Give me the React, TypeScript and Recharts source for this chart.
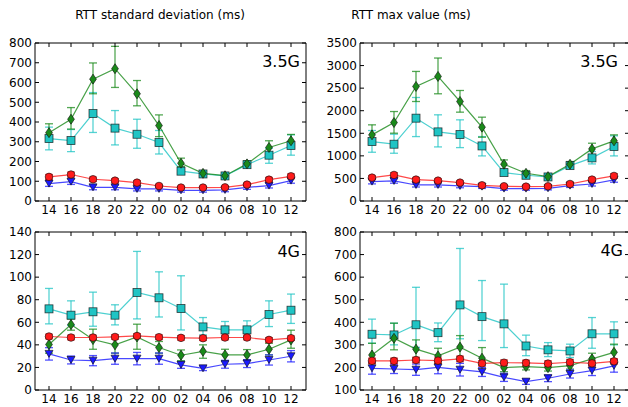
import React from 'react';
import { LineChart, Line, XAxis, YAxis, ErrorBar } from 'recharts';

const hours = ['14', '16', '18', '20', '22', '00', '02', '04', '06', '08', '10', '12'];

// Panel 1: RTT standard deviation, 3.5G
const sd35Green = [346, 414, 617, 670, 543, 382, 191, 140, 128, 188, 271, 305];
const sd35GreenErr = [[37, 45], [50, 59], [74, 82], [95, 113], [61, 67], [56, 54], [17, 26], [12, 12], [12, 12], [15, 15], [34, 34], [29, 32]];
const sd35Cyan = [316, 306, 443, 369, 338, 296, 151, 137, 127, 184, 232, 281];
const sd35CyanErr = [[57, 58], [56, 56], [96, 106], [85, 89], [71, 76], [58, 61], [15, 15], [12, 12], [12, 12], [15, 15], [41, 35], [49, 54]];
const sd35Red = [122, 134, 110, 103, 93, 76, 68, 68, 69, 83, 108, 125];
const sd35RedErr = [[12, 12], [12, 12], [11, 11], [10, 10], [10, 10], [8, 8], [7, 7], [7, 7], [7, 7], [8, 8], [11, 11], [12, 12]];
const sd35Blue = [88, 98, 69, 69, 61, 61, 54, 54, 56, 69, 78, 103];
const sd35BlueErr = [[14, 14], [14, 14], [12, 12], [12, 12], [10, 10], [10, 10], [9, 9], [9, 9], [9, 9], [10, 10], [12, 12], [13, 13]];

// Panel 2: RTT max value, 3.5G
const max35Green = [1465, 1738, 2537, 2759, 2204, 1635, 814, 614, 540, 814, 1154, 1332];
const max35GreenErr = [[185, 222], [236, 244], [333, 333], [384, 408], [236, 244], [222, 222], [111, 96], [60, 60], [50, 50], [60, 60], [133, 126], [126, 133]];
const max35Cyan = [1317, 1258, 1835, 1531, 1472, 1220, 629, 570, 533, 784, 955, 1206];
const max35CyanErr = [[237, 244], [200, 222], [408, 458], [333, 378], [289, 326], [221, 207], [60, 60], [50, 50], [50, 50], [50, 50], [134, 140], [207, 237]];
const max35Red = [518, 577, 474, 451, 407, 348, 326, 318, 326, 377, 474, 555];
const max35RedErr = [[45, 45], [50, 50], [45, 45], [40, 40], [40, 40], [35, 35], [30, 30], [30, 30], [30, 30], [35, 35], [45, 45], [50, 50]];
const max35Blue = [429, 444, 355, 355, 333, 318, 274, 274, 281, 340, 377, 466];
const max35BlueErr = [[50, 50], [50, 50], [45, 45], [45, 45], [40, 40], [40, 40], [35, 35], [35, 35], [35, 35], [40, 40], [45, 45], [50, 50]];

// Panel 3: RTT standard deviation, 4G
const sd4Cyan = [71.9, 66.3, 69.3, 66.3, 86.4, 81.7, 72.2, 55.9, 53.3, 53.3, 66.9, 70.7];
const sd4CyanErr = [[13.3, 18.1], [9, 12.7], [12.8, 17.4], [8.6, 9.2], [23.4, 36.4], [17, 23], [19, 29], [7.1, 8.3], [7.4, 7.4], [5.9, 8], [10.7, 12.1], [11.7, 14.3]];
const sd4Red = [47.4, 46.5, 46.5, 47, 47.9, 46.8, 46.2, 45.9, 46.5, 46.5, 44.4, 45.9];
const sd4RedErr = [[2, 2], [2, 2], [2, 2], [2, 2], [2, 2], [2, 2], [2, 2], [2, 2], [2, 2], [2, 2], [2, 2], [2, 2]];
const sd4Green = [40.3, 58, 44.7, 40, 47, 37.6, 30.8, 34.3, 31.1, 31.1, 36.1, 44.4];
const sd4GreenErr = [[7.7, 6.7], [5, 5], [8.6, 9.2], [7.4, 7.4], [10.9, 11.3], [5, 5.4], [4.8, 4.7], [6.2, 5.7], [5.1, 5], [4.5, 4.7], [5, 5.3], [7.4, 8.6]];
const sd4Blue = [32, 26.6, 26, 27.8, 27.8, 27.8, 22.2, 19.2, 22.8, 23.4, 26.6, 29.9];
const sd4BlueErr = [[5.5, 5.5], [3.5, 3.5], [4.5, 4.5], [5, 5], [5.5, 5.5], [5, 5], [3, 3], [2, 2], [3.5, 3.5], [3.5, 3.5], [4.5, 4.5], [5, 5]];

// Panel 4: RTT max value, 4G
const max4Cyan = [347, 344, 389, 354, 477, 425, 393, 295, 278, 273, 349, 349];
const max4CyanErr = [[40, 67], [44, 52], [100, 166], [40, 43], [150, 250], [106, 160], [105, 176], [43, 48], [30, 32], [29, 30], [64, 72], [49, 53]];
const max4Green = [255, 329, 281, 251, 290, 241, 199, 204, 199, 208, 238, 267];
const max4GreenErr = [[37, 52], [51, 67], [39, 41], [33, 34], [54, 51], [30, 47], [18, 19], [15, 15], [15, 15], [15, 15], [27, 25], [34, 36]];
const max4Red = [229, 229, 233, 230, 238, 218, 221, 220, 217, 223, 218, 227];
const max4RedErr = [[12, 12], [12, 12], [12, 12], [12, 12], [12, 12], [12, 12], [12, 12], [12, 12], [12, 12], [12, 12], [12, 12], [12, 12]];
const max4Blue = [196, 193, 190, 200, 190, 180, 156, 137, 152, 171, 186, 207];
const max4BlueErr = [[26, 26], [20, 20], [25, 25], [28, 28], [28, 28], [20, 20], [18, 18], [12, 12], [15, 15], [18, 18], [22, 22], [28, 28]];

const ticksSd35 = [0, 100, 200, 300, 400, 500, 600, 700, 800];
const ticksMax35 = [0, 500, 1000, 1500, 2000, 2500, 3000, 3500];
const ticksSd4 = [0, 20, 40, 60, 80, 100, 120, 140];
const ticksMax4 = [100, 200, 300, 400, 500, 600, 700, 800];

const FONT = 'DejaVu Sans, Verdana, sans-serif';

const C_GREEN = '#1a8a1a';
const C_CYAN = '#1fc4c4';
const C_RED = '#ff1a1a';
const C_BLUE = '#1a1aff';

function buildRows(series: { key: string; vals: number[]; errs: number[][] }[]) {
  return hours.map((h, i) => {
    const row: any = { hour: h };
    series.forEach((s) => {
      row[s.key] = s.vals[i];
      row[s.key + 'Err'] = s.errs[i];
    });
    return row;
  });
}

const dotShape = (kind: string, color: string) => (p: any) => {
  const { cx, cy, index } = p;
  if (cx == null || cy == null) return <g key={`n${index}`} />;
  const common = { fill: color, stroke: '#111', strokeWidth: 0.8, strokeOpacity: 0.8 };
  if (kind === 'diamond') {
    return <path key={`d${index}`} d={`M${cx},${cy - 5} L${cx + 3.4},${cy} L${cx},${cy + 5} L${cx - 3.4},${cy} Z`} {...common} />;
  }
  if (kind === 'square') {
    return <rect key={`s${index}`} x={cx - 4} y={cy - 4} width={8} height={8} {...common} />;
  }
  if (kind === 'circle') {
    return <circle key={`c${index}`} cx={cx} cy={cy} r={3.8} {...common} />;
  }
  return <path key={`t${index}`} d={`M${cx - 4},${cy - 3.5} L${cx + 4},${cy - 3.5} L${cx},${cy + 3.5} Z`} {...common} />;
};

type SeriesDef = { key: string; vals: number[]; errs: number[][]; color: string; kind: string };

function Panel(props: {
  left: number; top: number; width: number; height: number;
  margin: any; yWidth: number; domain: [number, number]; ticks: number[];
  series: SeriesDef[]; padL: number; padR: number;
}) {
  const { left, top, width, height, margin, yWidth, domain, ticks, series, padL, padR } = props;
  const data = buildRows(series);
  const tickStyle = { fontSize: 12, fill: '#000', fontFamily: FONT };
  return (
    <div style={{ position: 'absolute', left, top, width, height }}>
      <LineChart width={width} height={height} data={data} margin={margin}>
        <XAxis dataKey="hour" xAxisId="b" interval={0} padding={{ left: padL, right: padR }}
          tickSize={-4} tickMargin={8} height={24} stroke="#000" tick={tickStyle}
          axisLine={{ stroke: '#000' }} tickLine={{ stroke: '#000' }} />
        <XAxis dataKey="hour" xAxisId="t" orientation="top" interval={0} padding={{ left: padL, right: padR }}
          tickSize={-4} height={1} stroke="#000" tickFormatter={() => ''} />
        <YAxis yAxisId="l" domain={domain} ticks={ticks} interval={0} width={yWidth} tickSize={-4} tickMargin={7}
          stroke="#000" tick={tickStyle} axisLine={{ stroke: '#000' }} tickLine={{ stroke: '#000' }} allowDataOverflow />
        <YAxis yAxisId="r" orientation="right" domain={domain} ticks={ticks} interval={0} width={1} tickSize={-4}
          stroke="#000" tickFormatter={() => ''} allowDataOverflow />
        {series.map((s) => (
          <Line key={s.key} xAxisId="b" yAxisId="l" dataKey={s.key} stroke={s.color} strokeOpacity={0.8}
            strokeWidth={1.2} isAnimationActive={false} dot={dotShape(s.kind, s.color)} activeDot={false}>
            <ErrorBar dataKey={s.key + 'Err'} direction="y" width={4} stroke={s.color} strokeWidth={1.3} strokeOpacity={0.75} />
          </Line>
        ))}
      </LineChart>
    </div>
  );
}

export default function App() {
  const sd35: SeriesDef[] = [
    { key: 'cyan', vals: sd35Cyan, errs: sd35CyanErr, color: C_CYAN, kind: 'square' },
    { key: 'green', vals: sd35Green, errs: sd35GreenErr, color: C_GREEN, kind: 'diamond' },
    { key: 'blue', vals: sd35Blue, errs: sd35BlueErr, color: C_BLUE, kind: 'tri' },
    { key: 'red', vals: sd35Red, errs: sd35RedErr, color: C_RED, kind: 'circle' },
  ];
  const max35: SeriesDef[] = [
    { key: 'cyan', vals: max35Cyan, errs: max35CyanErr, color: C_CYAN, kind: 'square' },
    { key: 'green', vals: max35Green, errs: max35GreenErr, color: C_GREEN, kind: 'diamond' },
    { key: 'blue', vals: max35Blue, errs: max35BlueErr, color: C_BLUE, kind: 'tri' },
    { key: 'red', vals: max35Red, errs: max35RedErr, color: C_RED, kind: 'circle' },
  ];
  const sd4: SeriesDef[] = [
    { key: 'cyan', vals: sd4Cyan, errs: sd4CyanErr, color: C_CYAN, kind: 'square' },
    { key: 'green', vals: sd4Green, errs: sd4GreenErr, color: C_GREEN, kind: 'diamond' },
    { key: 'blue', vals: sd4Blue, errs: sd4BlueErr, color: C_BLUE, kind: 'tri' },
    { key: 'red', vals: sd4Red, errs: sd4RedErr, color: C_RED, kind: 'circle' },
  ];
  const max4: SeriesDef[] = [
    { key: 'cyan', vals: max4Cyan, errs: max4CyanErr, color: C_CYAN, kind: 'square' },
    { key: 'green', vals: max4Green, errs: max4GreenErr, color: C_GREEN, kind: 'diamond' },
    { key: 'blue', vals: max4Blue, errs: max4BlueErr, color: C_BLUE, kind: 'tri' },
    { key: 'red', vals: max4Red, errs: max4RedErr, color: C_RED, kind: 'circle' },
  ];
  return (
    <div style={{ position: 'absolute', left: 0, top: 0, width: 628, height: 407, overflow: 'hidden', background: '#fff', fontFamily: FONT }}>
      <Panel left={0} top={0} width={320} height={225} margin={{ top: 42, right: 13, left: 0, bottom: 0 }}
        yWidth={35} domain={[0, 800]} ticks={ticksSd35} series={sd35} padL={14} padR={15} />
      <Panel left={310} top={0} width={320} height={225} margin={{ top: 42, right: 0, left: 0, bottom: 0 }}
        yWidth={50} domain={[0, 3500]} ticks={ticksMax35} series={max35} padL={12} padR={15} />
      <Panel left={0} top={210} width={320} height={204} margin={{ top: 21, right: 13, left: 0, bottom: 0 }}
        yWidth={35} domain={[0, 140]} ticks={ticksSd4} series={sd4} padL={14} padR={15} />
      <Panel left={310} top={210} width={320} height={204} margin={{ top: 21, right: 0, left: 0, bottom: 0 }}
        yWidth={50} domain={[100, 800]} ticks={ticksMax4} series={max4} padL={12} padR={15} />
      <svg width={628} height={407} style={{ position: 'absolute', left: 0, top: 0, pointerEvents: 'none' }}>
        <text x={160} y={19} textAnchor="middle" fontSize={12} fontFamily={FONT} fill="#000">RTT standard deviation (ms)</text>
        <text x={411} y={19} textAnchor="middle" fontSize={12} fontFamily={FONT} fill="#000">RTT max value (ms)</text>
        <text x={300} y={66.5} textAnchor="end" fontSize={16} fontFamily={FONT} fill="#000">3.5G</text>
        <text x={618} y={66.5} textAnchor="end" fontSize={16} fontFamily={FONT} fill="#000">3.5G</text>
        <text x={300} y={256.5} textAnchor="end" fontSize={16} fontFamily={FONT} fill="#000">4G</text>
        <text x={623} y={256} textAnchor="end" fontSize={16} fontFamily={FONT} fill="#000">4G</text>
      </svg>
    </div>
  );
}
